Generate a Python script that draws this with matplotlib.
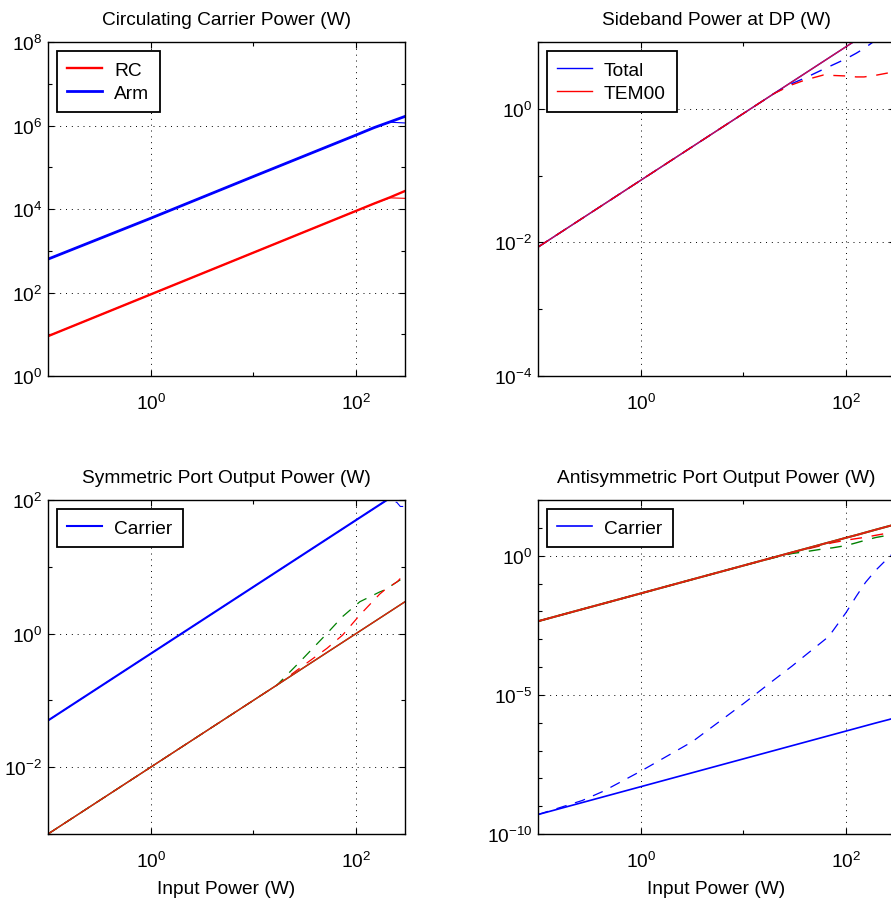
import matplotlib
matplotlib.use("Agg")
import matplotlib.pyplot as plt
from matplotlib.ticker import FixedLocator, NullFormatter

plt.rcParams['font.family'] = ['Liberation Sans', 'DejaVu Sans']
plt.rcParams['mathtext.fontset'] = 'custom'
plt.rcParams['mathtext.rm'] = 'Liberation Sans'
plt.rcParams['mathtext.it'] = 'Liberation Sans'
plt.rcParams['axes.unicode_minus'] = True

# ---- top left: circulating carrier power ----
x_tl = [0.1, 1, 10, 100, 150, 214, 300]
arm = [630, 6000, 6.0e4, 5.9e5, 8.9e5, 1.22e6, 1.65e6]
arm_b = [630, 6000, 6.0e4, 5.9e5, 8.9e5, 1.2e6, 1.15e6]
rc = [9, 90, 900, 9000, 1.35e4, 1.9e4, 2.7e4]
rc_b = [9, 90, 900, 9000, 1.35e4, 1.85e4, 1.8e4]

# ---- top right: sideband power at DP ----
x_tr = [0.1, 1, 10, 20, 30, 40, 60, 100, 126, 150, 200, 300]
sb_total = [0.0085, 0.085, 0.85, 1.7, 2.55, 3.4, 5.1, 8.5, 10.7, 12.8, 17, 25.5]
sb_total_d = [0.0085, 0.085, 0.85, 1.7, 2.4, 2.9, 3.9, 5.6, 6.8, 8.0, 11, 16]
sb_tem00_d = [0.0085, 0.085, 0.85, 1.7, 2.3, 2.7, 3.2, 3.1, 3.0, 3.0, 3.2, 3.6]

# ---- bottom left: symmetric port ----
x_bl = [0.1, 1, 10, 100, 150, 200, 250, 270, 300]
sp_carrier = [0.05, 0.5, 5, 50, 75, 100, 125, 135, 150]
sp_carrier_d = [0.05, 0.5, 5, 50, 75, 100, 92, 80, 80]
x_bl2 = [0.1, 1, 8, 17, 28, 52, 74, 109, 170, 190, 253, 300]
sp_red = [0.001, 0.01, 0.08, 0.17, 0.28, 0.52, 0.74, 1.09, 1.7, 1.9, 2.53, 3.0]
sp_red_d = [0.001, 0.01, 0.08, 0.17, 0.3, 0.6, 0.95, 1.9, 3.9, 4.5, 6.0, 8.0]
sp_green_d = [0.001, 0.01, 0.08, 0.17, 0.37, 1.0, 1.8, 3.0, 4.2, 4.5, 6.0, 7.0]

# ---- bottom right: antisymmetric port ----
x_br = [0.1, 0.27, 0.43, 1, 3.2, 10, 20, 30, 41, 63, 73, 100, 126, 155, 195, 263, 300]
ap_red = [0.0044, 0.0119, 0.0189, 0.044, 0.141, 0.44, 0.88, 1.32, 1.8, 2.77, 3.2, 4.4, 5.5, 6.8, 8.6, 11.6, 13.2]
ap_red_d = [0.0044, 0.0119, 0.0189, 0.044, 0.141, 0.44, 0.88, 1.3, 1.7, 2.5, 2.9, 3.6, 4.1, 4.6, 5.4, 6.6, 7.0]
ap_green_d = [0.0044, 0.0119, 0.0189, 0.044, 0.141, 0.44, 0.85, 1.2, 1.4, 1.8, 1.9, 2.3, 2.9, 3.6, 4.5, 5.5, 6.0]
ap_carrier = [5e-10, 1.35e-9, 2.15e-9, 5e-9, 1.6e-8, 5e-8, 1e-7, 1.5e-7, 2.05e-7, 3.15e-7, 3.65e-7, 5e-7, 6.3e-7, 7.75e-7, 9.75e-7, 1.3e-6, 1.5e-6]
ap_carrier_d = [5e-10, 1.6e-9, 3.4e-9, 1.8e-8, 2.1e-7, 4.8e-6, 3.5e-5, 1.1e-4, 2.8e-4, 1e-3, 1.8e-3, 9e-3, 3.5e-2, 0.11, 0.3, 0.9, 1.4]

# tick positions (decades)
x_major = [1, 100]
x_minor = [10]
tl_major = [1, 1e2, 1e4, 1e6, 1e8]
tl_minor = [10, 1e3, 1e5, 1e7]
tr_major = [1e-4, 1e-2, 1]
tr_minor = [1e-3, 1e-1, 10]
bl_major = [1e-2, 1, 1e2]
bl_minor = [1e-3, 1e-1, 10]
br_major = [1e-10, 1e-5, 1]
br_minor = [1e-9, 1e-8, 1e-7, 1e-6, 1e-4, 1e-3, 1e-2, 1e-1, 10, 100]

DASH = (8.5, 7)
W, H = 891, 904
FS = 13.8


def setup(ax, ylim, ymaj, ymin, title, xlabel=None):
    ax.set_xscale('log')
    ax.set_yscale('log')
    ax.set_xlim(0.1, 300)
    ax.set_ylim(*ylim)
    ax.xaxis.set_major_locator(FixedLocator(x_major))
    ax.xaxis.set_minor_locator(FixedLocator(x_minor))
    ax.xaxis.set_minor_formatter(NullFormatter())
    ax.yaxis.set_major_locator(FixedLocator(ymaj))
    ax.yaxis.set_minor_locator(FixedLocator(ymin))
    ax.yaxis.set_minor_formatter(NullFormatter())
    ax.tick_params(which='both', direction='in', top=True, right=True, labelsize=FS)
    ax.tick_params(axis='x', which='major', pad=12)
    ax.tick_params(axis='y', which='major', pad=4)
    ax.tick_params(which='major', length=4, width=0.8)
    ax.tick_params(which='minor', length=3, width=0.8)
    ax.grid(True, which='major', color='black', linestyle=(0, (1, 5)), linewidth=0.7)
    for s in ax.spines.values():
        s.set_linewidth(1.0)
    ax.set_title(title, fontsize=FS, pad=13)
    if xlabel:
        ax.set_xlabel(xlabel, fontsize=FS, labelpad=7)


def legend(ax):
    lg = ax.legend(loc='upper left', fontsize=FS, fancybox=False, framealpha=1,
                   edgecolor='black', handlelength=1.8, handletextpad=0.65,
                   borderaxespad=0.45, labelspacing=0.3, borderpad=0.55)
    lg.get_frame().set_linewidth(1.3)


fig = plt.figure(figsize=(W / 100, H / 100), dpi=100)

axw = 357 / W
axh = 334 / H
ax1 = fig.add_axes([48 / W, 1 - 377 / H, axw, axh])
ax2 = fig.add_axes([538 / W, 1 - 377 / H, axw, axh])
ax3 = fig.add_axes([48 / W, 1 - 835 / H, axw, axh])
ax4 = fig.add_axes([538 / W, 1 - 835 / H, axw, axh])

# top left
ax1.plot(x_tl, rc, color='red', lw=1.7, label='RC')
ax1.plot(x_tl, arm, color='blue', lw=2.0, label='Arm')
ax1.plot(x_tl, rc_b, color='red', lw=0.8)
ax1.plot(x_tl, arm_b, color='blue', lw=0.8)
setup(ax1, (1, 1e8), tl_major, tl_minor, 'Circulating Carrier Power (W)')
legend(ax1)

# top right
ax2.plot(x_tr, sb_total, color='blue', lw=1.0, label='Total')
ax2.plot(x_tr, sb_total, color='red', lw=1.0, label='TEM00')
ax2.plot(x_tr, sb_total_d, color='blue', lw=1.0, dashes=DASH)
ax2.plot(x_tr, sb_tem00_d, color='red', lw=1.0, dashes=DASH)
setup(ax2, (1e-4, 10), tr_major, tr_minor, 'Sideband Power at DP (W)')
legend(ax2)
ax2.get_lines()[1].set_color('#d0104a')

# bottom left
ax3.plot(x_bl, sp_carrier, color='blue', lw=1.5, label='Carrier')
ax3.plot(x_bl, sp_carrier_d, color='blue', lw=0.8, dashes=DASH)
ax3.plot(x_bl2, sp_green_d, color='green', lw=0.9, dashes=DASH)
ax3.plot(x_bl2, sp_red_d, color='red', lw=0.9, dashes=DASH)
ax3.plot(x_bl2, sp_red, color='green', lw=1.0)
ax3.plot(x_bl2, sp_red, color='#e02010', lw=1.0)
setup(ax3, (1e-3, 1e2), bl_major, bl_minor, 'Symmetric Port Output Power (W)', 'Input Power (W)')
legend(ax3)

# bottom right
ax4.plot(x_br, ap_carrier, color='blue', lw=1.2, label='Carrier')
ax4.plot(x_br, ap_carrier_d, color='blue', lw=0.9, dashes=DASH)
ax4.plot(x_br, ap_green_d, color='green', lw=1.0, dashes=DASH)
ax4.plot(x_br, ap_red_d, color='red', lw=1.0, dashes=DASH)
ax4.plot(x_br, ap_red, color='green', lw=1.4)
ax4.plot(x_br, ap_red, color='#e02010', lw=1.4)
setup(ax4, (1e-10, 1e2), br_major, br_minor, 'Antisymmetric Port Output Power (W)', 'Input Power (W)')
legend(ax4)

fig.savefig('out.png', dpi=100)
